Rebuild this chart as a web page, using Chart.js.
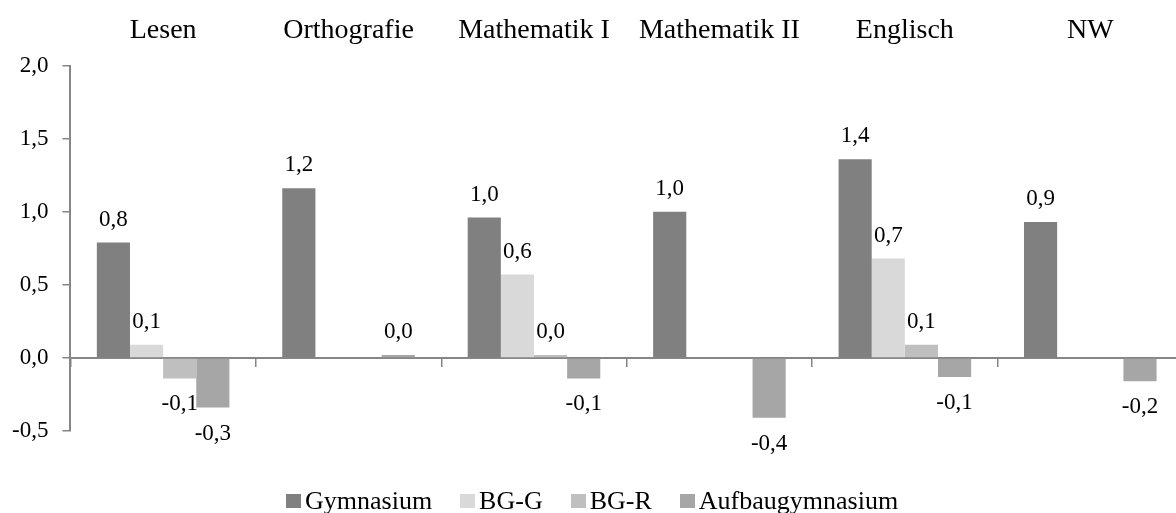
<!DOCTYPE html>
<html>
<head>
<meta charset="utf-8">
<script src="https://cdn.jsdelivr.net/npm/chart.js@4"></script>
<style>
  html, body { margin: 0; padding: 0; background: #fff; overflow: hidden; }
  .page { position: relative; width: 1176px; height: 513px; overflow: hidden; }
  .wrap { position: absolute; left: -2px; top: -14px; width: 1185px; height: 527px; }
  #legend {
    position: absolute; left: 286px; top: 487px; height: 28px;
    display: flex; align-items: center;
    font-family: 'Liberation Serif', 'Times New Roman', serif; font-size: 26px; color: #000;
    white-space: nowrap;
  }
  #legend .item { display: flex; align-items: center; margin-right: 28px; }
  #legend .box { width: 15px; height: 14px; margin-right: 4px; }
</style>
</head>
<body>
<div class="page">
  <div class="wrap"><canvas id="chart"></canvas></div>
  <div id="legend"></div>
</div>
<script>
const categories = ['Lesen', 'Orthografie', 'Mathematik I', 'Mathematik II', 'Englisch', 'NW'];
const seriesNames = ['Gymnasium', 'BG-G', 'BG-R', 'Aufbaugymnasium'];
const gymnasium = [0.79, 1.16, 0.96, 1.0, 1.36, 0.93];
const bgG = [0.09, null, 0.57, null, 0.68, null];
const bgR = [-0.14, null, 0.02, null, 0.09, null];
const aufbau = [-0.34, 0.02, -0.14, -0.41, -0.13, -0.16];
const yMin = -0.5;
const yMax = 2.0;
const yStep = 0.5;

const colors = ['#808080', '#d9d9d9', '#bfbfbf', '#a6a6a6'];
const axisColor = '#868686';
const serif = "'Liberation Serif', 'Times New Roman', serif";

const fmt = (v) => v.toFixed(1).replace('.', ',');

// value labels above / below each bar
const valueLabels = {
  id: 'valueLabels',
  afterDatasetsDraw(chart) {
    const ctx = chart.ctx;
    ctx.save();
    ctx.font = '23px ' + serif;
    ctx.fillStyle = '#000';
    ctx.textAlign = 'center';
    ctx.textBaseline = 'middle';
    chart.data.datasets.forEach((ds, i) => {
      const meta = chart.getDatasetMeta(i);
      meta.data.forEach((bar, j) => {
        const v = ds.data[j];
        if (v === null || v === undefined) return;
        const y = v >= 0 ? bar.y - 23 : bar.y + 26;
        ctx.fillText(fmt(v), bar.x, y);
      });
    });
    ctx.restore();
  }
};

const allSeries = [gymnasium, bgG, bgR, aufbau];

const chart = new Chart(document.getElementById('chart'), {
  type: 'bar',
  data: {
    labels: categories,
    datasets: allSeries.map((d, i) => ({
      label: seriesNames[i],
      data: d,
      backgroundColor: colors[i],
      borderWidth: 0,
      categoryPercentage: 0.715,
      barPercentage: 1.0,
    })),
  },
  options: {
    responsive: true,
    maintainAspectRatio: false,
    animation: false,
    layout: { padding: { top: 10, left: 0, right: 0, bottom: 82 } },
    plugins: {
      tooltip: { enabled: false },
      legend: { display: false },
    },
    scales: {
      x: {
        position: 'top',
        grid: { display: false, drawTicks: false },
        border: { display: false },
        ticks: {
          font: { family: serif, size: 28 },
          color: '#000',
          padding: 18,
          maxRotation: 0,
          autoSkip: false,
        },
      },
      x2: {
        type: 'category',
        labels: categories,
        position: { y: 0 },
        offset: true,
        grid: {
          offset: true,
          drawOnChartArea: false,
          drawTicks: true,
          tickLength: 8,
          color: axisColor,
          lineWidth: 1.5,
        },
        border: { color: axisColor, width: 2 },
        ticks: { display: false },
      },
      y: {
        min: yMin,
        max: yMax,
        ticks: {
          stepSize: yStep,
          font: { family: serif, size: 23 },
          color: '#000',
          padding: 14,
          callback: (v) => fmt(v),
        },
        grid: {
          drawOnChartArea: false,
          drawTicks: true,
          tickLength: 8,
          color: axisColor,
          lineWidth: 1.5,
        },
        border: { color: axisColor, width: 2 },
      },
    },
  },
  plugins: [valueLabels],
});

// legend as html, built from the chart datasets
const legendEl = document.getElementById('legend');
chart.data.datasets.forEach((ds) => {
  const item = document.createElement('div');
  item.className = 'item';
  const box = document.createElement('span');
  box.className = 'box';
  box.style.background = ds.backgroundColor;
  const txt = document.createElement('span');
  txt.textContent = ds.label;
  item.appendChild(box);
  item.appendChild(txt);
  legendEl.appendChild(item);
});
</script>
</body>
</html>
